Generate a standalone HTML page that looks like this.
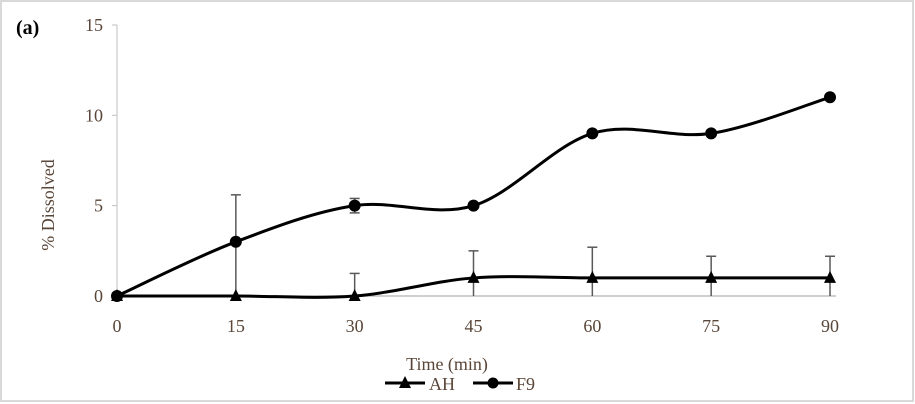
<!DOCTYPE html>
<html><head><meta charset="utf-8"><style>
body{margin:0;background:#fff}
svg{display:block;font-family:"Liberation Serif",serif}
</style></head><body>
<svg id="chart" width="915" height="404" viewBox="0 0 915 404">
<rect x="1" y="1" width="912" height="400" fill="#fff" stroke="#d9d9d9" stroke-width="2"/>
<text x="16" y="34" font-size="20" font-weight="bold">(a)</text>
<text transform="translate(54,205) rotate(-90)" text-anchor="middle" font-size="18" fill="#5a4638">% Dissolved</text>
<text x="447" y="370" text-anchor="middle" font-size="18" fill="#5a4638">Time (min)</text>
<g id="axes"></g>
<g id="marks"></g>
<g>
<line x1="385" y1="383" x2="425" y2="383" stroke="#000" stroke-width="3"/>
<polygon points="405,376 399,388 411,388" fill="#000"/>
<text x="429" y="390" font-size="18" fill="#5a4638">AH</text>
<line x1="473" y1="383" x2="513" y2="383" stroke="#000" stroke-width="3"/>
<circle cx="493" cy="383" r="5.5" fill="#000"/>
<text x="516" y="390" font-size="18" fill="#5a4638">F9</text>
</g>
</svg>
<script>
const times=[0,15,30,45,60,75,90];
const ahValues=[0,0,0,1,1,1,1];
const ahErr=[0,0,1.25,1.5,1.7,1.2,1.2];
const f9Values=[0,3,5,5,9,9,11];
const f9Err=[0,2.6,0.4,0,0,0,0];
const yTicks=[0,5,10,15];
const ns="http://www.w3.org/2000/svg";
const X=v=>117+v*(713/90);
const Y=v=>296-v*(271/15);
const axes=document.getElementById('axes'),marks=document.getElementById('marks');
function mk(tag,attrs,parent){const e=document.createElementNS(ns,tag);for(const k in attrs)e.setAttribute(k,attrs[k]);parent.appendChild(e);return e;}
let ya=mk('line',{x1:117,y1:Y(15),x2:117,y2:296,stroke:'#bfbfbf','stroke-width':1},axes);


let xa=mk('line',{x1:117,y1:296,x2:836,y2:296,stroke:'#bfbfbf','stroke-width':1.5},axes);


yTicks.forEach(t=>{
 mk('line',{x1:112,y1:Y(t),x2:117,y2:Y(t),stroke:'#bfbfbf'},axes);
 const tx=mk('text',{x:103,y:Y(t)+6,'text-anchor':'end','font-size':18,fill:'#5a4638'},axes);tx.textContent=t;
 
 
});
times.forEach(t=>{
 const tx=mk('text',{x:X(t),y:332,'text-anchor':'middle','font-size':18,fill:'#5a4638'},axes);tx.textContent=t;
 
 
});
function smooth(vals){
 const p=vals.map((v,i)=>[X(times[i]),Y(v)]);
 let d=`M${p[0][0]},${p[0][1]}`;
 for(let i=0;i<p.length-1;i++){
  const p0=p[Math.max(i-1,0)],p1=p[i],p2=p[i+1],p3=p[Math.min(i+2,p.length-1)];
  const c1=[p1[0]+(p2[0]-p0[0])/6,p1[1]+(p2[1]-p0[1])/6];
  const c2=[p2[0]-(p3[0]-p1[0])/6,p2[1]-(p3[1]-p1[1])/6];
  d+=` C${c1[0]},${c1[1]} ${c2[0]},${c2[1]} ${p2[0]},${p2[1]}`;
 }
 return d;
}
function errbars(vals,errs,name){
 vals.forEach((v,i)=>{if(!errs[i])return;
  const lo=v-errs[i];
  const x=X(times[i]),y1=Y(Math.max(lo,0)),y2=Y(v+errs[i]);
  const g=mk('g',{},marks);
  
  
  mk('line',{x1:x,y1:lo<1?296:y1,x2:x,y2:y2,stroke:'#595959','stroke-width':1.5},g);
  mk('line',{x1:x-5,y1:y2,x2:x+5,y2:y2,stroke:'#595959','stroke-width':1.5},g);
  if(lo>=1) mk('line',{x1:x-5,y1:y1,x2:x+5,y2:y1,stroke:'#595959','stroke-width':1.5},g);
 });
}
errbars(ahValues,ahErr,'ah');
errbars(f9Values,f9Err,'f9');
const la=mk('path',{d:smooth(ahValues),fill:'none',stroke:'#000','stroke-width':3},marks);


const lf=mk('path',{d:smooth(f9Values),fill:'none',stroke:'#000','stroke-width':3},marks);


ahValues.forEach((v,i)=>{const x=X(times[i]),y=Y(v);
 const m=mk('polygon',{points:`${x},${y-7} ${x-6},${y+5} ${x+6},${y+5}`,fill:'#000'},marks);
 
 
});
f9Values.forEach((v,i)=>{
 const m=mk('circle',{cx:X(times[i]),cy:Y(v),r:6,fill:'#000'},marks);
 
 
});
</script>
</body></html>
